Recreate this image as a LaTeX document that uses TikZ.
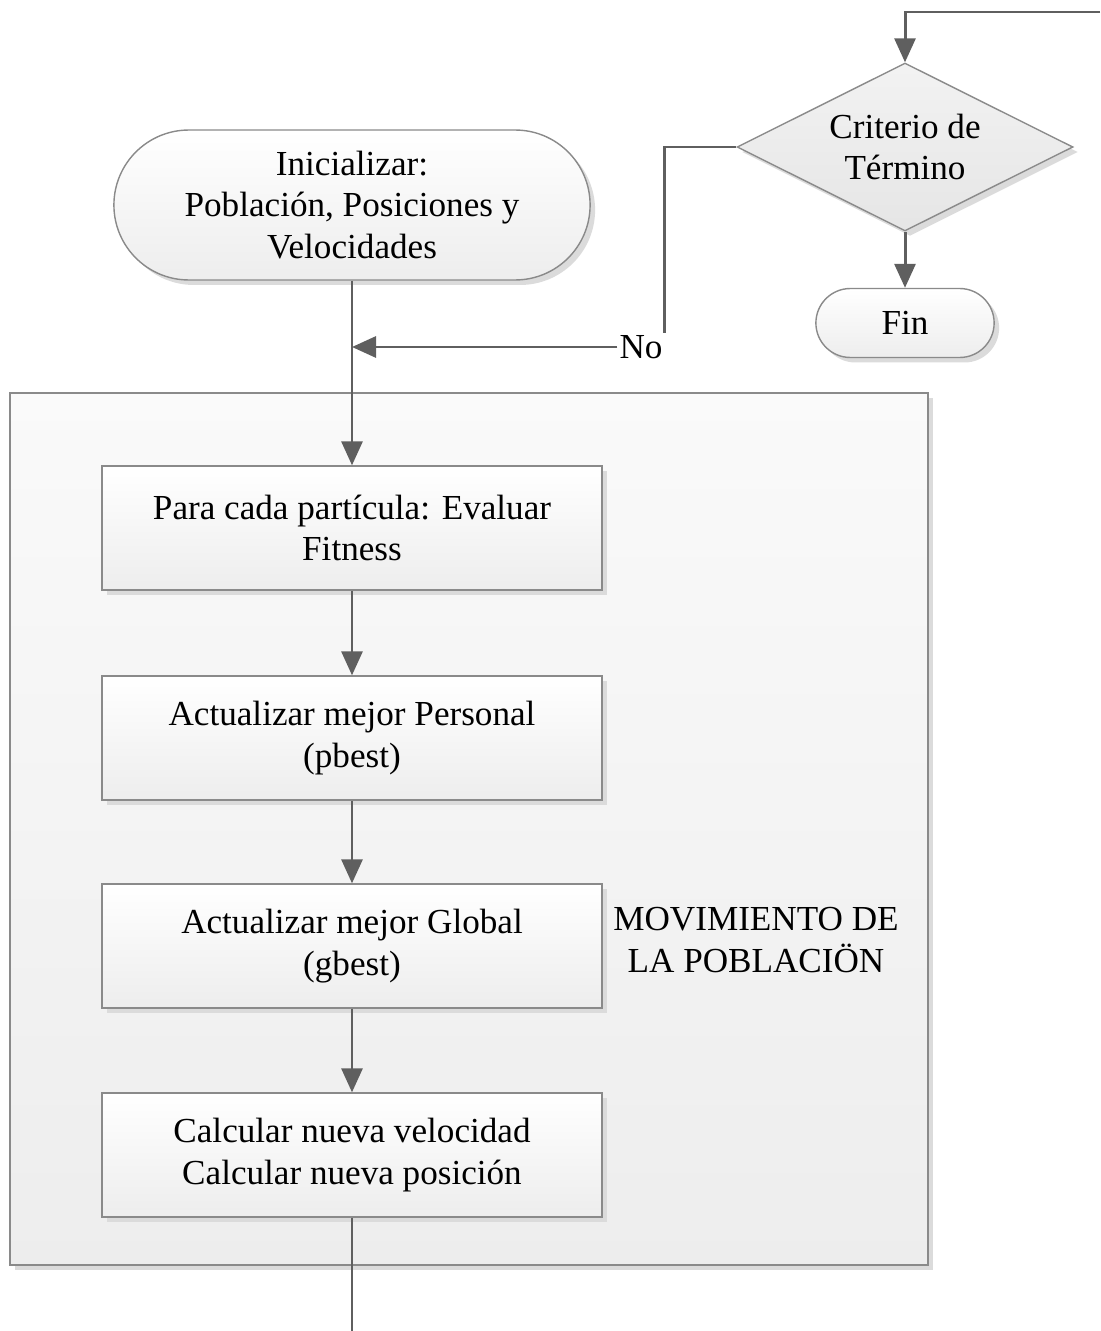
\documentclass[tikz,border=0pt]{standalone}
\usepackage{fontspec}
\setmainfont{Liberation Serif}
\usetikzlibrary{shapes.geometric,shapes.misc,shadows,arrows.meta}

\definecolor{lineagris}{HTML}{5F5F5F}
\definecolor{bordegris}{HTML}{8A8A8A}

\tikzset{
  sombra/.style={drop shadow={shadow xshift=0.1cm,shadow yshift=-0.1cm,fill=black!14,opacity=1}},
  caja/.style={rectangle,draw=bordegris,line width=0.8pt,top color=white,bottom color=black!7,sombra,
    minimum width=10cm,minimum height=2.48cm},
  terminal/.style={rounded rectangle,draw=bordegris,line width=0.8pt,top color=white,bottom color=black!7,sombra},
  decision/.style={diamond,aspect=2,draw=bordegris,line width=0.8pt,top color=black!5,bottom color=black!10,sombra,
    minimum width=6.72cm,minimum height=3.36cm,inner sep=0pt},
  grupo/.style={rectangle,draw=bordegris,line width=0.8pt,top color=black!2,bottom color=black!7,sombra,
    minimum width=18.36cm,minimum height=17.44cm},
  linea/.style={draw=lineagris,line width=1.7pt},
  flecha/.style={linea,-{Triangle[length=0.48cm,width=0.42cm]}}
}

\begin{document}
\begin{tikzpicture}[x=0.02cm,y=-0.02cm]
   \useasboundingbox (0,0) rectangle (1100,1331);
   \node[grupo] (mov) at (469,829) {};
   \begin{scope}[every node/.style={align=center,font=\fontsize{20}{23.8}\selectfont}]
    \node[terminal,minimum width=9.76cm,minimum height=3cm] (ini) at (352,205) {Inicializar:\\Población, Posiciones y\\Velocidades};
    \node[decision] (crit) at (905,147) {Criterio de\\Término};
    \node[terminal,minimum width=3.8cm,minimum height=1.38cm] (fin) at (905,323) {Fin};
    \node[inner sep=1pt] (no) at (641,347) {No};
    \node[caja] (eval) at (352,528) {Para cada partícula: Evaluar\\Fitness};
    \node[caja] (pbest) at (352,738) {Actualizar mejor Personal\\(pbest)};
    \node[caja] (gbest) at (352,946) {Actualizar mejor Global\\(gbest)};
    \node[caja] (calc) at (352,1155) {Calcular nueva velocidad\\Calcular nueva posición};
    \node (etiq) at (756,940) {MOVIMIENTO DE\\LA POBLACIÖN};
   \end{scope}
   \coordinate (entrada) at (1100,12);
   \coordinate (union) at (352,347);
   \coordinate (salida) at (352,1331);
   \begin{scope}
    \draw[flecha] (entrada) -| (crit.north);
    \draw[flecha] (crit.south) -- (fin.north);
    \draw[linea] (crit.west) -| (no.north east);
    \draw[flecha] (no.west) -- (union);
    \draw[flecha] (ini.south) -- (eval.north);
    \draw[flecha] (eval.south) -- (pbest.north);
    \draw[flecha] (pbest.south) -- (gbest.north);
    \draw[flecha] (gbest.south) -- (calc.north);
    \draw[linea] (calc.south) -- (salida);
   \end{scope}
\end{tikzpicture}
\end{document}
